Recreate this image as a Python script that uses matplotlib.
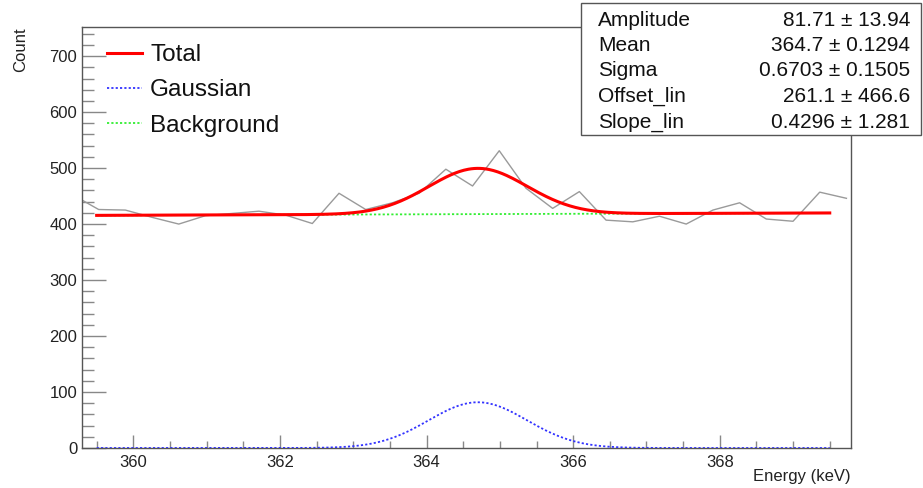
import numpy as np
import matplotlib
matplotlib.use("Agg")
import matplotlib.pyplot as plt
from matplotlib.patches import Rectangle
from matplotlib.ticker import MultipleLocator

plt.rcParams['font.family'] = ['Liberation Sans', 'DejaVu Sans']

# ---- data (histogram drawn as polyline through bin centres) ----
bin_start = 359.163
bin_width = 0.3643
counts = [453, 426, 425, 412, 400, 415, 419, 423, 416, 401, 455, 426, 438, 455,
          498, 468, 531, 464, 428, 458, 407, 404, 414, 400, 425, 438, 409, 405,
          457, 446]

# ---- fit result (from stats box) ----
param_names = ["Amplitude", "Mean", "Sigma", "Offset_lin", "Slope_lin"]
param_values = ["81.71", "364.7", "0.6703", "261.1", "0.4296"]
param_errors = ["13.94", "0.1294", "0.1505", "466.6", "1.281"]
amplitude, mean, sigma, offset_lin, slope_lin = 81.71, 364.7, 0.6703, 261.1, 0.4296
fit_range = (359.5, 369.5)

legend_labels = ["Total", "Gaussian", "Background"]

W, H = 923, 488
fig = plt.figure(figsize=(W / 100, H / 100), dpi=100)
ax = fig.add_axes([82 / W, 1 - 448 / H, (851 - 82) / W, (448 - 27) / H])

energy = bin_start + bin_width * np.arange(len(counts))
ax.plot(energy, counts, color='#9a9a9a', lw=1.0, zorder=2)

xf = np.linspace(fit_range[0], fit_range[1], 500)
bkg = offset_lin + slope_lin * xf
gaus = amplitude * np.exp(-0.5 * ((xf - mean) / sigma) ** 2)
ax.plot(xf, bkg, color='#33ee33', lw=1.3, ls=(0, (1.2, 1.2)), zorder=3, label=legend_labels[2])
ax.plot(xf, gaus, color='#3333ff', lw=1.3, ls=(0, (1.2, 1.2)), zorder=3, label=legend_labels[1])
ax.plot(xf, gaus + bkg, color='#ff0000', lw=2.2, zorder=4, label=legend_labels[0])

ax.set_xlim(359.3, 369.79)
ax.set_ylim(0, 752)

for s in ax.spines.values():
    s.set_color('#555555')
    s.set_linewidth(1.0)

ax.xaxis.set_major_locator(MultipleLocator(2))
ax.xaxis.set_minor_locator(MultipleLocator(0.5))
ax.yaxis.set_major_locator(MultipleLocator(100))
ax.yaxis.set_minor_locator(MultipleLocator(20))
ax.tick_params(axis='both', which='both', direction='in', color='#888888', width=1.0,
               labelsize=12, labelcolor='#222222', top=False, right=False)
ax.tick_params(axis='y', which='major', length=17.3, pad=3.5)
ax.tick_params(axis='y', which='minor', length=8.6)
ax.tick_params(axis='x', which='major', length=9.4, pad=5)
ax.tick_params(axis='x', which='minor', length=5)

fig.text(851 / W, 1 - 477 / H, "Energy (keV)", ha='right', va='center', fontsize=12, color='#222222')
fig.text(21 / W, 1 - 50 / H, "Count", ha='center', va='center', rotation=90, fontsize=12, color='#222222')

handles, labels = ax.get_legend_handles_labels()
order = [2, 1, 0]
leg = ax.legend([handles[i] for i in order], [labels[i] for i in order],
                loc='upper left', bbox_to_anchor=(107 / W, 1 - 44 / H),
                bbox_transform=fig.transFigure, frameon=False, fontsize=17.5,
                handlelength=1.42, handletextpad=0.35, labelspacing=0.55,
                borderaxespad=0, borderpad=0)
for t in leg.get_texts():
    t.set_color('#111111')

# stats box
fig.patches.append(Rectangle((581 / W, 1 - 135 / H), (921 - 581) / W, (135 - 3) / H,
                             transform=fig.transFigure, facecolor='white',
                             edgecolor='#555555', lw=1.0, zorder=5))
rows_y = np.linspace(20, 122, 5)
for name, val, err, yy in zip(param_names, param_values, param_errors, rows_y):
    fig.text(598 / W, 1 - yy / H, name, ha='left', va='center', fontsize=15,
             color='#111111', zorder=6)
    fig.text(910 / W, 1 - yy / H, f"{val} \u00b1 {err}", ha='right', va='center',
             fontsize=15, color='#111111', zorder=6)

fig.savefig("out.png", dpi=100)
